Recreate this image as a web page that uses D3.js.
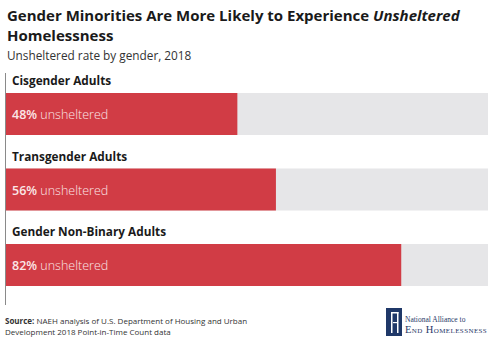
<!DOCTYPE html>
<html>
<head>
<meta charset="utf-8">
<script src="https://cdn.jsdelivr.net/npm/d3@7"></script>
<style>
  body { margin: 0; background: #fff; }
  svg { display: block; font-family: 'Open Sans', sans-serif; }
</style>
</head>
<body>
<script>
const groups = ['Cisgender Adults', 'Transgender Adults', 'Gender Non-Binary Adults'];
const unsheltered = [48, 56, 82];

const W = 491, H = 342;
const barH = 42;

const svg = d3.select('body').append('svg')
  .attr('width', W)
  .attr('height', H);

// title block
const title = svg.append('text')
  .attr('x', 7).attr('y', 21)
  .style('font-size', '15px').style('font-weight', 700).style('fill', '#1a1a1a');
title.append('tspan').text('Gender Minorities Are More Likely to Experience ');
title.append('tspan').style('font-style', 'italic').text('Unsheltered');
svg.append('text')
  .attr('x', 7).attr('y', 41)
  .style('font-size', '15px').style('font-weight', 700).style('fill', '#1a1a1a')
  .text('Homelessness');

svg.append('text')
  .attr('x', 7).attr('y', 60)
  .style('font-size', '11.8px').style('fill', '#333')
  .text('Unsheltered rate by gender, 2018');

// scales
const x = d3.scaleLinear().domain([0, 100]).range([6, 488]);
const y = d3.scalePoint().domain(groups).range([93, 244]);

// left rule
svg.append('line')
  .attr('x1', 5.5).attr('x2', 5.5)
  .attr('y1', 73).attr('y2', 305)
  .style('stroke', '#8a8a8a').style('stroke-width', 1);

const rows = svg.selectAll('.row')
  .data(groups)
  .enter().append('g')
  .attr('class', 'row')
  .attr('transform', d => `translate(0,${y(d)})`);

// full-width track
rows.append('rect')
  .attr('x', x(0))
  .attr('y', 0)
  .attr('width', x(100) - x(0))
  .attr('height', barH)
  .style('fill', '#e6e6e8');

rows.append('rect')
  .attr('x', x(0))
  .attr('y', 0)
  .attr('width', (d, i) => x(unsheltered[i]) - x(0))
  .attr('height', barH)
  .style('fill', '#d13c45');

rows.append('text')
  .attr('x', 12)
  .attr('y', -8)
  .style('font-size', '11.8px').style('font-weight', 700).style('fill', '#1a1a1a')
  .text(d => d);

const val = rows.append('text')
  .attr('x', 12)
  .attr('y', barH / 2 + 5)
  .style('font-size', '12.5px').style('fill', '#fbe6e7');
val.append('tspan').style('font-weight', 600).text((d, i) => unsheltered[i] + '%');
val.append('tspan').style('font-weight', 300).text(' unsheltered');

// source note
const src = svg.append('text')
  .attr('x', 5).attr('y', 324)
  .style('font-size', '8px').style('fill', '#333');
src.append('tspan').style('font-weight', 700).text('Source:');
src.append('tspan').text(' NAEH analysis of U.S. Department of Housing and Urban');
svg.append('text')
  .attr('x', 5).attr('y', 335)
  .style('font-size', '8px').style('fill', '#333')
  .text('Development 2018 Point-in-Time Count data');

// logo
const navy = '#1f3868';
const logo = svg.append('g');
logo.append('rect').attr('x', 386).attr('y', 308).attr('width', 16).attr('height', 28).style('fill', navy);
logo.append('rect').attr('x', 391).attr('y', 312).attr('width', 1.5).attr('height', 21).style('fill', '#fff');
logo.append('rect').attr('x', 391).attr('y', 312).attr('width', 7.5).attr('height', 1.5).style('fill', '#fff');
logo.append('rect').attr('x', 397).attr('y', 312).attr('width', 1.5).attr('height', 21).style('fill', '#fff');
logo.append('rect').attr('x', 393).attr('y', 322).attr('width', 4).attr('height', 1.2).style('fill', '#fff');
logo.append('text')
  .attr('x', 405).attr('y', 322)
  .style('font-family', "'Liberation Serif', serif").style('font-size', '7.5px').style('fill', navy)
  .text('National Alliance to');
logo.append('text')
  .attr('x', 405).attr('y', 333)
  .style('font-family', "'Liberation Serif', serif").style('font-size', '10.5px').style('fill', navy)
  .style('font-variant', 'small-caps').style('letter-spacing', '0.4px')
  .text('End Homelessness');
</script>
</body>
</html>
